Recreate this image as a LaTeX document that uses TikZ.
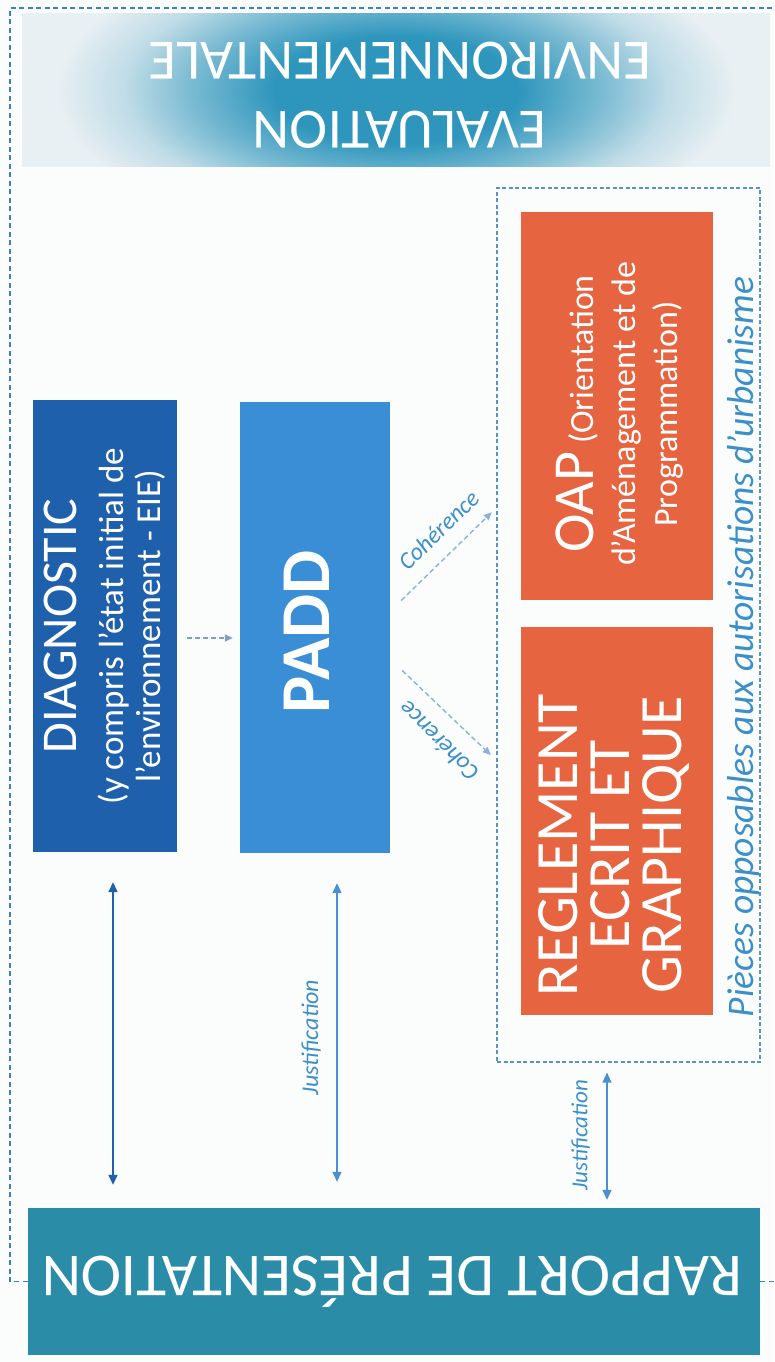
\documentclass[tikz,border=0pt]{standalone}
\usepackage{fontspec}
\setmainfont{Carlito}
\usetikzlibrary{arrows.meta,calc}

\definecolor{paper}{HTML}{FBFCFC}
\definecolor{diagblue}{HTML}{1F60AD}
\definecolor{paddblue}{HTML}{3A8ED6}
\definecolor{pieceorange}{HTML}{E6643F}
\definecolor{rapteal}{HTML}{2B8CA8}
\definecolor{evdark}{HTML}{2E96BC}
\definecolor{evlight}{HTML}{E9F0F3}
\definecolor{frameblue}{HTML}{3C7EBF}
\definecolor{linkblue}{HTML}{4A8FCF}
\definecolor{softblue}{HTML}{8DB2DA}
\definecolor{labelblue}{HTML}{3C8FC9}

% soft glow behind the environmental assessment banner
% (the glow fades out well inside the shaded ellipse, which covers the whole banner)
\pgfdeclareradialshading{evglow}{\pgfpoint{0bp}{0bp}}{%
  color(0bp)=(evdark); color(4.5bp)=(evdark); color(7.5bp)=(evdark!60!evlight);
  color(10bp)=(evdark!22!evlight); color(12bp)=(evdark!5!evlight);
  color(12.5bp)=(evlight); color(50bp)=(evlight)}

\begin{document}
\begin{tikzpicture}[x=1pt, y=-1pt,
  block/.style={rectangle, inner sep=0pt, draw=none},
  whitetext/.style={text=white, align=center, rotate=90},
  frame/.style={draw=frameblue, line width=1.6pt, dash pattern=on 5pt off 3.5pt},
  group/.style={draw=frameblue!85, line width=1.1pt, dash pattern=on 4pt off 2.5pt},
  twoway/.style={{Triangle[length=10pt,width=9pt]}-{Triangle[length=10pt,width=9pt]}, line width=1.6pt},
  link/.style={-{Triangle[length=8pt,width=7pt]}, line width=1.4pt, dash pattern=on 5pt off 3pt},
  note/.style={text=labelblue, font=\itshape\fontsize{24}{24}\selectfont, inner sep=0pt},
]
\fill[paper] (0,0) rectangle (774,1362);
\useasboundingbox (0,0) rectangle (774,1362);

% banner
\node[block, minimum width=748pt, minimum height=152pt,
  path picture={\shade[shading=evglow] ($(path picture bounding box.center)+(0,0)$) ellipse [x radius=680pt, y radius=300pt];}]
  (evalbox) at (396,90) {};
\node[text=white, align=center, rotate=180, font=\fontsize{57}{69}\selectfont]
  (evaltext) at ($(evalbox)+(4,5)$) {EVALUATION\\ENVIRONNEMENTALE};

% main blocks
\node[block, fill=diagblue, minimum width=144pt, minimum height=452pt] (diag) at (105,626) {};
\node[whitetext, font=\fontsize{35}{37}\selectfont] (diagtext) at (diag)
  {{\fontsize{50}{50}\selectfont DIAGNOSTIC}\\[10pt](y compris l’état initial de\\l’environnement - EIE)};

\node[block, fill=paddblue, minimum width=150pt, minimum height=451pt] (padd) at (315,627.5) {};
\node[text=white, rotate=90, font=\bfseries\fontsize{70}{70}\selectfont] (paddtext) at ($(padd)+(-8,4)$) {PADD};

\node[block, group, minimum width=263pt, minimum height=874pt] (opp) at (628.5,625) {};
\node[block, fill=pieceorange, minimum width=192pt, minimum height=388pt] (oap) at (617,406) {};
\node[whitetext, font=\fontsize{34}{42}\selectfont] (oaptext) at ($(oap)+(3,8)$)
  {{\fontsize{58}{58}\selectfont OAP} (Orientation\\d’Aménagement et de\\Programmation)};
\node[block, fill=pieceorange, minimum width=192pt, minimum height=388pt] (regl) at (617,821) {};
\node[whitetext, font=\fontsize{60}{52}\selectfont] (regltext) at ($(regl)+(-3,24)$)
  {REGLEMENT\\ECRIT ET\\GRAPHIQUE};
\node[note, rotate=90, anchor=base, font=\itshape\fontsize{37.5}{37.5}\selectfont]
  (opptext) at ($(opp.east)+(-7,22)$) {Pièces opposables aux autorisations d’urbanisme};

\node[block, fill=rapteal, minimum width=732pt, minimum height=147pt] (rapport) at (394,1281.5) {};
\node[text=white, rotate=180, font=\fontsize{61}{61}\selectfont] (raptext) at ($(rapport)+(-2,0)$) {RAPPORT DE PRÉSENTATION};

% outer dashed frame
\coordinate (frameTL) at (10,8);
\coordinate (frameTR) at (780,8);
\draw[frame] (rapport.west) -| (frameTL) -- (frameTR);
\draw[frame] (rapport.east) -- ++(20,0);

% diagnostic feeds the PADD
\coordinate (dp) at ($(diag.east)+(10,12)$);
\draw[link, draw=softblue!90!black, shorten >=7pt] (dp) -- (dp -| padd.west);

% coherence links
\coordinate (c1s) at ($(padd.east)+(11,-27)$);
\coordinate (c1e) at ($(oap.south west)+(-29,-88)$);
\draw[link, draw=softblue] (c1s) -- node[note, pos=0.6, sloped, anchor=south, outer sep=16pt] (coh1) {Cohérence} (c1e);
\coordinate (c2s) at ($(padd.east)+(12,43)$);
\coordinate (c2e) at ($(regl.west)+(-30,-66)$);
\draw[link, draw=softblue] (c2s) -- node[note, pos=0.62, rotate=135, anchor=south, outer sep=18pt] (coh2) {Cohérence} (c2e);

% justification links
\coordinate (dj1) at ([xshift=8pt]diag.south);
\coordinate (dj2) at (dj1 |- rapport.north);
\draw[twoway, draw=diagblue, fill=diagblue, shorten <=30pt, shorten >=23pt] (dj1) -- (dj2);

\coordinate (pj1) at ([xshift=22pt]padd.south);
\coordinate (pj2) at (pj1 |- rapport.north);
\draw[twoway, draw=linkblue, fill=linkblue, line width=1.3pt, shorten <=30pt, shorten >=26pt] (pj1) -- (pj2);
\node[note, rotate=90, anchor=south, outer sep=16pt] (just1) at ($(pj1)!0.52!(pj2)$) {Justification};

\coordinate (oj1) at ([xshift=-21.5pt]opp.south);
\coordinate (oj2) at (oj1 |- rapport.north);
\draw[twoway, draw=linkblue, fill=linkblue, line width=1.3pt, shorten <=10pt, shorten >=8pt] (oj1) -- (oj2);
\node[note, rotate=90, anchor=south, outer sep=17pt, font=\itshape\fontsize{23}{23}\selectfont] (just2) at ($(oj1)!0.5!(oj2)$) {Justification};
\end{tikzpicture}
\end{document}
